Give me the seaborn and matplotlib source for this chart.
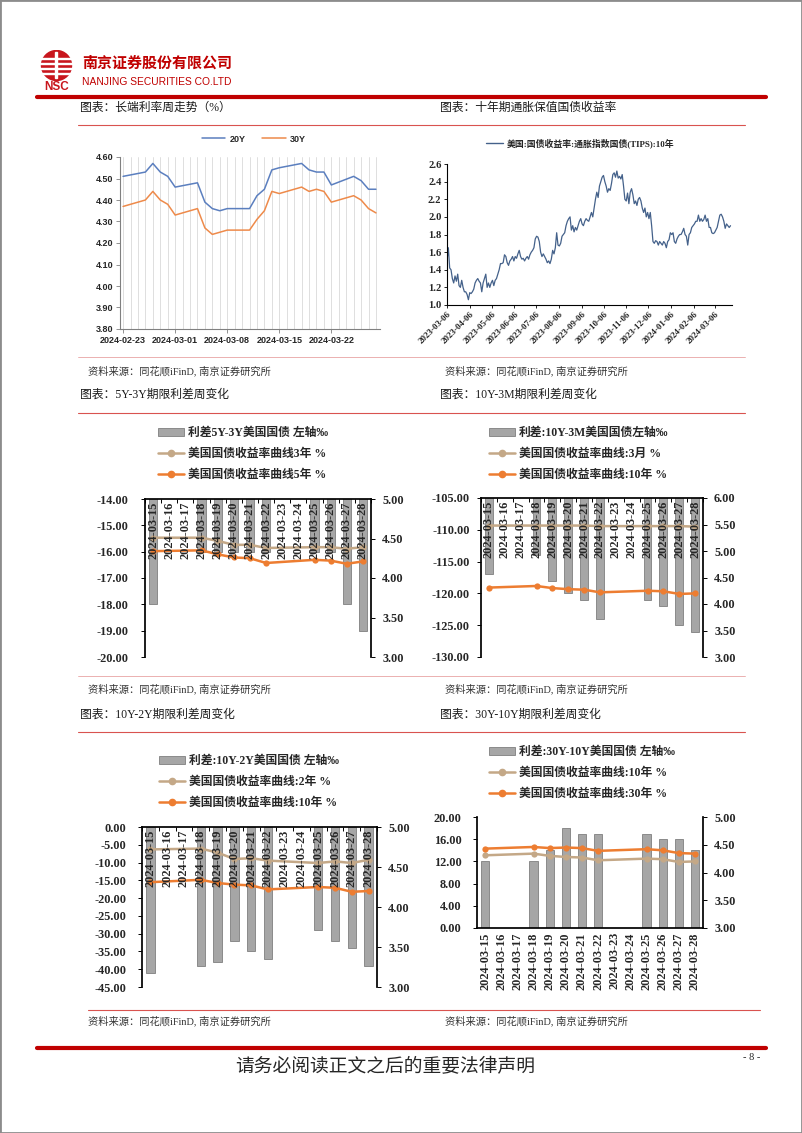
import numpy as np
import pandas as pd
import matplotlib
matplotlib.use("Agg")
import matplotlib.pyplot as plt
import matplotlib.dates as mdates
import matplotlib.transforms as mtransforms
from matplotlib.lines import Line2D
from matplotlib.patches import Patch, Rectangle, Circle
from matplotlib.ticker import FormatStrFormatter
import seaborn as sns

# ---------------- data ----------------
# long end rates, trading days
rate_dates = ["2024-02-23", "2024-02-26", "2024-02-27", "2024-02-28", "2024-02-29",
              "2024-03-01", "2024-03-04", "2024-03-05", "2024-03-06", "2024-03-07",
              "2024-03-08", "2024-03-11", "2024-03-12", "2024-03-13", "2024-03-14",
              "2024-03-15", "2024-03-18", "2024-03-19", "2024-03-20", "2024-03-21",
              "2024-03-22", "2024-03-25", "2024-03-26", "2024-03-27", "2024-03-28"]
y20 = [4.51, 4.53, 4.57, 4.53, 4.51, 4.46, 4.48, 4.39, 4.36, 4.35, 4.36, 4.36, 4.42,
       4.45, 4.54, 4.55, 4.57, 4.54, 4.53, 4.53, 4.47, 4.51, 4.49, 4.45, 4.45]
y30 = [4.37, 4.40, 4.44, 4.40, 4.38, 4.33, 4.36, 4.27, 4.24, 4.25, 4.26, 4.26, 4.31,
       4.35, 4.44, 4.43, 4.46, 4.44, 4.45, 4.44, 4.39, 4.42, 4.40, 4.36, 4.34]

tips_start, tips_end = "2023-03-06", "2024-03-27"
tips_10y = [
    1.50, 1.65, 1.42, 1.40, 1.30, 1.25, 1.33, 1.27, 1.35, 1.22, 1.20, 1.28, 1.20, 1.15, 1.15, 1.12,
    1.06, 1.14, 1.13, 1.15, 1.18, 1.25, 1.28, 1.30, 1.27, 1.25, 1.15, 1.25, 1.30, 1.35, 1.20, 1.25, 1.20,
    1.25, 1.28, 1.22, 1.28, 1.30, 1.35, 1.40, 1.47, 1.47, 1.48, 1.57, 1.55, 1.48, 1.45, 1.50, 1.52, 1.55,
    1.50, 1.55, 1.53, 1.58, 1.62, 1.55, 1.52, 1.53, 1.50, 1.53, 1.55, 1.52, 1.57, 1.60, 1.62, 1.65, 1.75,
    1.78, 1.77, 1.72, 1.60, 1.55, 1.58, 1.55, 1.52, 1.48, 1.50, 1.47, 1.52, 1.62, 1.58, 1.65, 1.82, 1.68,
    1.67, 1.70, 1.78, 1.80, 1.82, 1.90, 1.95, 1.98, 2.00, 1.85, 1.90, 1.83, 1.88, 1.85, 1.90, 1.95, 1.98,
    1.92, 1.90, 1.95, 1.98, 1.96, 1.95, 2.00, 2.05, 2.00, 2.10, 2.20, 2.28, 2.22, 2.35, 2.40, 2.45, 2.47,
    2.40, 2.35, 2.28, 2.32, 2.30, 2.38, 2.48, 2.50, 2.45, 2.52, 2.44, 2.46, 2.43, 2.48, 2.35, 2.20, 2.18,
    2.27, 2.15, 2.28, 2.32, 2.25, 2.15, 2.18, 2.13, 2.20, 2.22, 2.18, 2.10, 2.05, 2.10, 2.00, 2.05, 1.98,
    2.05, 1.90, 1.72, 1.70, 1.73, 1.72, 1.68, 1.72, 1.70, 1.68, 1.72, 1.70, 1.65, 1.72, 1.74, 1.82, 1.80,
    1.82, 1.72, 1.70, 1.75, 1.78, 1.80, 1.80, 1.83, 1.87, 1.80, 1.78, 1.68, 1.80, 1.82, 1.88, 1.90, 1.92,
    1.95, 1.95, 2.02, 1.95, 1.98, 1.95, 1.97, 2.02, 1.95, 1.98, 1.88, 1.88, 1.82, 1.81, 1.82, 1.85, 1.88,
    1.95, 2.02, 2.03, 2.00, 1.95, 1.87, 1.92, 1.90, 1.88, 1.90,
]

# weekly spread charts
spread_cats = ["2024-03-15", "2024-03-16", "2024-03-17", "2024-03-18", "2024-03-19",
               "2024-03-20", "2024-03-21", "2024-03-22", "2024-03-23", "2024-03-24",
               "2024-03-25", "2024-03-26", "2024-03-27", "2024-03-28"]
trade_days = ["2024-03-15", "2024-03-18", "2024-03-19", "2024-03-20", "2024-03-21",
              "2024-03-22", "2024-03-25", "2024-03-26", "2024-03-27", "2024-03-28"]
ust_3m = [5.48, 5.48, 5.48, 5.48, 5.48, 5.47, 5.47, 5.47, 5.47, 5.46]
ust_2y = [4.72, 4.73, 4.68, 4.60, 4.61, 4.58, 4.55, 4.57, 4.55, 4.59]
ust_3y = [4.51, 4.51, 4.47, 4.42, 4.42, 4.38, 4.39, 4.39, 4.37, 4.39]
ust_5y = [4.34, 4.35, 4.30, 4.26, 4.25, 4.19, 4.23, 4.22, 4.18, 4.21]
ust_10y = [4.31, 4.34, 4.30, 4.28, 4.27, 4.22, 4.25, 4.24, 4.19, 4.20]
ust_30y = [4.43, 4.46, 4.44, 4.45, 4.44, 4.39, 4.42, 4.40, 4.35, 4.34]
sp_5y3y = [-18, -16, -16, -16, -16, -16, -16, -16, -18, -19]
sp_10y3m = [-117, -114, -118, -120, -121, -124, -121, -122, -125, -126]
sp_10y2y = [-41, -39, -38, -32, -35, -37, -29, -32, -34, -39]
sp_30y10y = [12, 12, 14, 18, 17, 17, 17, 16, 16, 14]

# ---------------- style ----------------
sns.set_theme(style="white")
plt.rcParams["font.family"] = ["Liberation Serif", "Noto Sans CJK SC", "DejaVu Sans"]
plt.rcParams["axes.unicode_minus"] = False

serif = ["Liberation Serif", "Noto Sans CJK SC"]
cjk = ["Noto Sans CJK SC", "DejaVu Sans"]
red = "#c00000"
bar_c, bar_edge = "#a6a6a6", "#7f7f7f"
tan, orange = "#c4a887", "#ed7d31"

W, H = 802, 1133
fig = plt.figure(figsize=(W / 100, H / 100), dpi=100)


def box(x0, y0, x1, y1):
    return fig.add_axes([x0 / W, 1 - y1 / H, (x1 - x0) / W, (y1 - y0) / H])


def put(x, y, s, **kw):
    fig.text(x / W, 1 - y / H, s, **kw)


def rule(y, x0, x1, color=red, lw=0.8):
    fig.add_artist(Line2D([x0 / W, x1 / W], [1 - y / H, 1 - y / H], color=color, lw=lw))


# page frame
fig.add_artist(Rectangle((0, 0), 1, 1, transform=fig.transFigure, fill=False,
                         edgecolor="#8c8c8c", lw=2))

# ---------------- header ----------------
lg = box(37, 50, 76, 92)
lg.set_xlim(0, 39)
lg.set_ylim(42, 0)
lg.axis("off")
lg.add_patch(Circle((19.5, 15.5), 15, color="#c8161d"))
for yy in (7.5, 12.5, 17.5, 22.5):
    lg.add_patch(Rectangle((3, yy), 33, 1.4, color="white"))
lg.add_patch(Rectangle((17.5, 2), 2.2, 26, color="white"))
lg.text(19.5, 37.5, "NSC", ha="center", va="center", color="#c8161d", fontsize=8.5,
        weight="bold", family="Liberation Sans")

put(82, 63, "南京证券股份有限公司", color=red, fontsize=10.8, weight="bold", family=cjk, va="center")
put(82, 82, "NANJING SECURITIES CO.LTD", color=red, fontsize=7.4, family="Liberation Sans", va="center")
rule(97, 37, 766, lw=3)

title_kw = dict(fontsize=8.5, family=serif, va="center", color="#1a1a1a")
src_kw = dict(fontsize=7.4, family=serif, va="center", color="#333333")

put(80, 108, "图表：长端利率周走势（%）", **title_kw)
put(440, 108, "图表：十年期通胀保值国债收益率", **title_kw)
rule(125, 78, 745, color="#d9534f", lw=0.8)

put(88, 371, "资料来源：同花顺iFinD, 南京证券研究所", **src_kw)
put(445, 371, "资料来源：同花顺iFinD, 南京证券研究所", **src_kw)
rule(357, 78, 745, color="#e8a3a3", lw=0.6)

put(80, 395, "图表：5Y-3Y期限利差周变化", **title_kw)
put(440, 395, "图表：10Y-3M期限利差周变化", **title_kw)
rule(413, 78, 745, color="#d9534f", lw=0.8)

put(88, 689, "资料来源：同花顺iFinD, 南京证券研究所", **src_kw)
put(445, 689, "资料来源：同花顺iFinD, 南京证券研究所", **src_kw)
rule(676, 78, 745, color="#e8a3a3", lw=0.6)

put(80, 715, "图表：10Y-2Y期限利差周变化", **title_kw)
put(440, 715, "图表：30Y-10Y期限利差周变化", **title_kw)
rule(732, 78, 745, color="#d9534f", lw=0.8)

put(88, 1021, "资料来源：同花顺iFinD, 南京证券研究所", **src_kw)
put(445, 1021, "资料来源：同花顺iFinD, 南京证券研究所", **src_kw)
rule(1010, 88, 760, color="#d9534f", lw=0.8)

rule(1048, 37, 766, lw=3)
put(385, 1067, "请务必阅读正文之后的重要法律声明", fontsize=13.5, family=cjk, ha="center", va="center")
put(752, 1058, "- 8 -", fontsize=7.5, family="Liberation Serif", ha="center", va="center")

# ---------------- chart 1: 20Y / 30Y ----------------
ax1 = box(120, 157, 380, 329)
d1 = pd.to_datetime(rate_dates)
c20, c30 = "#5b7fbf", "#ee8a4a"
sns.lineplot(x=d1, y=y20, ax=ax1, color=c20, lw=1.1)
sns.lineplot(x=d1, y=y30, ax=ax1, color=c30, lw=1.1)
ax1.set_ylim(3.8, 4.6)
ax1.set_yticks(np.arange(3.8, 4.61, 0.1))
ax1.yaxis.set_major_formatter(FormatStrFormatter("%.2f"))
ax1.set_xlim(d1[0] - pd.Timedelta(hours=10), d1[-1] + pd.Timedelta(hours=13))
ax1.xaxis.set_major_locator(mdates.WeekdayLocator(byweekday=mdates.FR))
ax1.xaxis.set_minor_locator(mdates.DayLocator())
ax1.xaxis.set_major_formatter(mdates.DateFormatter("%Y-%m-%d"))
ax1.grid(axis="x", which="both", color="#d9d9d9", lw=0.6)
ax1.set_xlabel("")
ax1.set_ylabel("")
for s in ("top", "right"):
    ax1.spines[s].set_visible(False)
for s in ("left", "bottom"):
    ax1.spines[s].set_color("#808080")
    ax1.spines[s].set_linewidth(0.8)
ax1.tick_params(axis="both", which="major", length=3, width=0.6, color="#808080", pad=2,
                labelsize=6.5, labelcolor="#262626")
ax1.tick_params(axis="both", which="minor", length=0)
ax1.tick_params(axis="y", left=True)
ax1.tick_params(axis="x", bottom=True)
for t in ax1.get_xticklabels() + ax1.get_yticklabels():
    t.set_fontfamily("Liberation Sans")
    t.set_fontweight("bold")
fig.legend(handles=[Line2D([], [], color=c20, lw=1.1), Line2D([], [], color=c30, lw=1.1)],
           labels=["20Y", "30Y"], loc="center", bbox_to_anchor=(254 / W, 1 - 139 / H),
           ncol=2, frameon=False, handlelength=2.6, handletextpad=0.5, columnspacing=1.8,
           prop=dict(family="Liberation Sans", weight="bold", size=6.5))

# ---------------- chart 2: TIPS ----------------
ax2 = box(447, 164, 732, 305)
td = pd.date_range(tips_start, tips_end, periods=len(tips_10y))
tips_c = "#44618a"
sns.lineplot(x=td, y=tips_10y, ax=ax2, color=tips_c, lw=0.9)
ax2.set_ylim(1.0, 2.6)
ax2.set_yticks(np.arange(1.0, 2.61, 0.2))
ax2.yaxis.set_major_formatter(FormatStrFormatter("%.1f"))
ax2.set_xlim(td[0], td[-1] + pd.Timedelta(days=2))
ax2.xaxis.set_major_locator(mdates.MonthLocator(bymonthday=6))
ax2.xaxis.set_major_formatter(mdates.DateFormatter("%Y-%m-%d"))
ax2.set_xlabel("")
ax2.set_ylabel("")
for s in ("top", "right"):
    ax2.spines[s].set_visible(False)
for s in ("left", "bottom"):
    ax2.spines[s].set_color("black")
    ax2.spines[s].set_linewidth(0.8)
ax2.tick_params(axis="both", length=2.5, width=0.6, color="black", pad=1.5, left=True, bottom=True)
ax2.tick_params(axis="y", labelsize=7.6)
ax2.tick_params(axis="x", labelsize=6.5)
for t in ax2.get_yticklabels():
    t.set_fontweight("bold")
for t in ax2.get_xticklabels():
    t.set_fontweight("bold")
    t.set_rotation(45)
    t.set_ha("right")
    t.set_rotation_mode("anchor")
fig.legend(handles=[Line2D([], [], color=tips_c, lw=1.0)],
           labels=["美国:国债收益率:通胀指数国债(TIPS):10年"], loc="center",
           bbox_to_anchor=(580 / W, 1 - 143 / H), frameon=False, handlelength=2.0,
           handletextpad=0.4, prop=dict(family=serif, weight="bold", size=6.4))


# ---------------- spread charts ----------------
def spread_chart(rect, spread, s_short, s_long, labels, ylim_l, step_l, ylim_r, legend_xy,
                 axis_top=True, lpad=6):
    ax = box(*rect)
    sns.barplot(x=trade_days, y=spread, order=spread_cats, color=bar_c, saturation=1,
                edgecolor=bar_edge, linewidth=0.6, width=0.5, errorbar=None, ax=ax)
    ax.set_ylim(*ylim_l)
    ax.set_yticks(np.arange(ylim_l[0], ylim_l[1] + step_l / 2, step_l))
    ax.yaxis.set_major_formatter(FormatStrFormatter("%.2f"))
    ax.set_xlim(-0.5, len(spread_cats) - 0.5)
    ax.set_xlabel("")
    ax.set_ylabel("")
    ax.set_xticks(np.arange(-0.5, len(spread_cats), 1), minor=True)
    ax.spines["right"].set_visible(False)
    ax.spines["left"].set_color("black")
    ax.tick_params(axis="y", left=True, direction="out", length=3, width=0.7, color="black",
                   pad=lpad, labelsize=8.8)
    for t in ax.get_yticklabels():
        t.set_fontweight("bold")

    axr = ax.twinx()
    pos = [spread_cats.index(d) for d in trade_days]
    for vals, col in ((s_short, tan), (s_long, orange)):
        sns.lineplot(x=pos, y=vals, ax=axr, color=col, lw=1.8, marker="o", markersize=4.5,
                     markeredgecolor=col, markeredgewidth=0)
    axr.set_ylim(*ylim_r)
    axr.set_yticks(np.arange(ylim_r[0], ylim_r[1] + 0.25, 0.5))
    axr.yaxis.set_major_formatter(FormatStrFormatter("%.2f"))
    axr.set_ylabel("")
    for s in ("top", "bottom", "left"):
        axr.spines[s].set_visible(False)
    axr.spines["right"].set_color("black")
    axr.tick_params(axis="y", right=True, direction="out", length=3, width=0.7, color="black",
                    pad=5, labelsize=8.8)
    for t in axr.get_yticklabels():
        t.set_fontweight("bold")

    if axis_top:
        ax.spines["bottom"].set_visible(False)
        ax.spines["top"].set_color("black")
        ax.tick_params(axis="x", which="major", length=0, labelbottom=False)
        ax.tick_params(axis="x", which="minor", bottom=False, top=True, direction="in",
                       length=3, width=0.7, color="black")
        # category labels sit inside the plot, on top of bars and lines
        trans = mtransforms.blended_transform_factory(axr.transData, axr.transAxes)
        for i, c in enumerate(spread_cats):
            axr.text(i, 0.985, c, transform=trans, rotation=90, ha="center", va="top",
                     fontsize=8.8, fontweight="bold", family="Liberation Serif", zorder=5)
    else:
        ax.spines["top"].set_visible(False)
        ax.spines["bottom"].set_color("black")
        ax.tick_params(axis="x", which="major", length=0, labelbottom=True, pad=3,
                       labelsize=8.8, labelrotation=90)
        ax.tick_params(axis="x", which="minor", length=0)
        for t in ax.get_xticklabels():
            t.set_fontweight("bold")

    handles = [Patch(facecolor=bar_c, edgecolor=bar_edge, lw=0.6),
               Line2D([], [], color=tan, lw=1.8, marker="o", ms=4.5),
               Line2D([], [], color=orange, lw=1.8, marker="o", ms=4.5)]
    fig.legend(handles=handles, labels=labels, loc="center left",
               bbox_to_anchor=(legend_xy[0] / W, 1 - legend_xy[1] / H), frameon=False,
               handlelength=2.2, handletextpad=0.3, labelspacing=0.78, borderpad=0,
               borderaxespad=0, prop=dict(family=serif, weight="bold", size=8.5))
    return ax


spread_chart((145, 499, 371, 657), sp_5y3y, ust_3y, ust_5y,
             ["利差5Y-3Y美国国债 左轴‰", "美国国债收益率曲线3年 %", "美国国债收益率曲线5年 %"],
             (-20, -14), 1, (3.0, 5.0), (158, 454), lpad=9)
spread_chart((481, 498, 703, 657), sp_10y3m, ust_3m, ust_10y,
             ["利差:10Y-3M美国国债左轴‰", "美国国债收益率曲线:3月 %", "美国国债收益率曲线:10年 %"],
             (-130, -105), 5, (3.0, 6.0), (489, 454), lpad=5)
spread_chart((142, 827, 377, 987), sp_10y2y, ust_2y, ust_10y,
             ["利差:10Y-2Y美国国债 左轴‰", "美国国债收益率曲线:2年 %", "美国国债收益率曲线:10年 %"],
             (-45, 0), 5, (3.0, 5.0), (159, 782), lpad=8)
spread_chart((477, 817, 703, 928), sp_30y10y, ust_10y, ust_30y,
             ["利差:30Y-10Y美国国债 左轴‰", "美国国债收益率曲线:10年 %", "美国国债收益率曲线:30年 %"],
             (0, 20), 4, (3.0, 5.0), (489, 773), axis_top=False, lpad=8)

fig.savefig("out.png", dpi=100)
